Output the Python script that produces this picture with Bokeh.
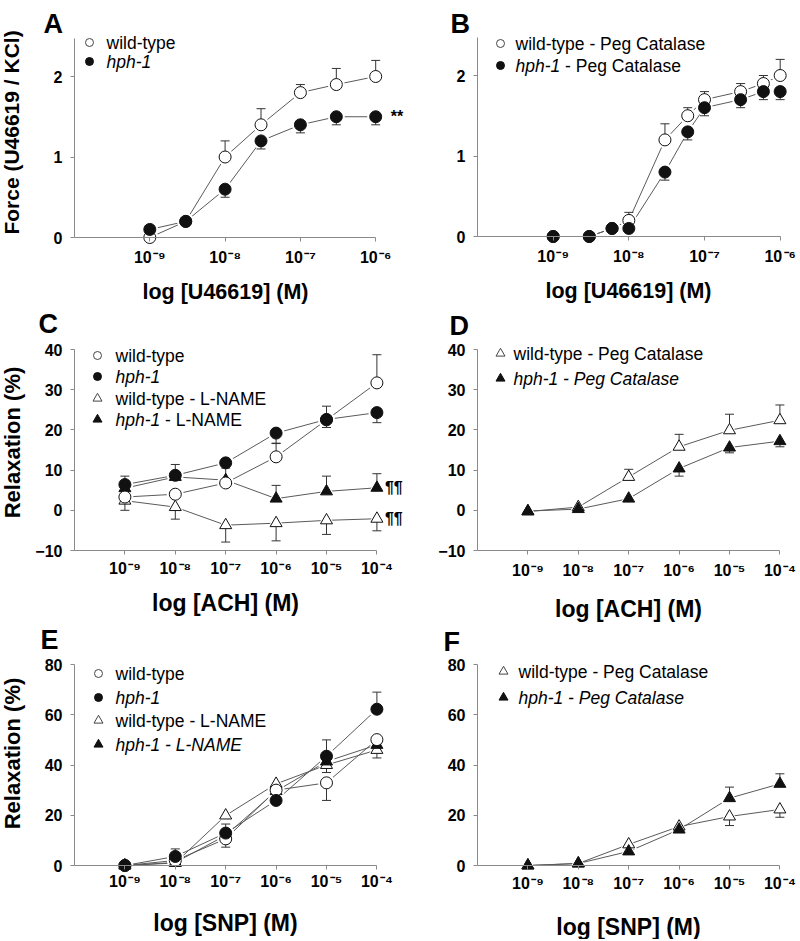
import numpy as np
from math import pi
from bokeh.plotting import figure
from bokeh.models import Range1d, FixedTicker, Label
from bokeh.layouts import column, row
from bokeh.embed import file_html
from bokeh.resources import INLINE

FONT = "Liberation Sans"
AXIS_COLOR = "#8a8a8a"
LINE_COLOR = "#5a5a5a"
ERR_COLOR = "#333333"
MARK_COLOR = "#111111"

# ---------------- data ----------------
# Panel A: U46619 contraction
A_conc = [1e-9, 3e-9, 1e-8, 3e-8, 1e-7, 3e-7, 1e-6]
A_wt = [0.0, 0.2, 1.0, 1.4, 1.8, 1.9, 2.0]
A_wt_up = [0, 0, 0.2, 0.2, 0.1, 0.2, 0.2]
A_wt_dn = [0, 0, 0, 0, 0, 0, 0]
A_hph = [0.1, 0.2, 0.6, 1.2, 1.4, 1.5, 1.5]
A_hph_up = [0, 0, 0, 0, 0, 0, 0]
A_hph_dn = [0, 0, 0.1, 0.1, 0.1, 0.1, 0.1]

# Panel B: U46619 + PEG catalase
B_conc = [1e-9, 3e-9, 6e-9, 1e-8, 3e-8, 6e-8, 1e-7, 3e-7, 6e-7, 1e-6]
B_wt = [0.0, 0.0, 0.1, 0.2, 1.2, 1.5, 1.7, 1.8, 1.9, 2.0]
B_wt_up = [0, 0, 0, 0.1, 0.2, 0.1, 0.1, 0.1, 0.1, 0.2]
B_wt_dn = [0, 0, 0, 0, 0, 0, 0, 0, 0, 0]
B_hph = [0.0, 0.0, 0.1, 0.1, 0.8, 1.3, 1.6, 1.7, 1.8, 1.8]
B_hph_up = [0, 0, 0, 0, 0, 0, 0, 0, 0, 0]
B_hph_dn = [0, 0, 0, 0, 0.1, 0.1, 0.1, 0.1, 0.1, 0.1]

# Panels C-F: ACh / SNP relaxation
CF_conc = [1e-9, 1e-8, 1e-7, 1e-6, 1e-5, 1e-4]

C_wt = [3.3, 4.0, 6.8, 13.3, 22.5, 31.7]
C_wt_up = [0, 0, 0, 3.3, 3.4, 7.0]
C_wt_dn = [0, 0, 0, 0, 0, 0]
C_hph = [6.4, 8.7, 11.8, 19.2, 22.6, 24.3]
C_hph_up = [2.1, 2.7, 0, 0, 0, 0]
C_hph_dn = [0, 0, 0, 2.5, 2.0, 2.5]
C_wtL = [2.4, 0.8, -3.7, -3.2, -2.5, -2.1]
C_wtL_up = [0, 0, 0, 0, 0, 0]
C_wtL_dn = [2.4, 3.0, 4.2, 4.4, 3.5, 3.0]
C_hphL = [5.5, 8.3, 7.5, 2.9, 4.7, 5.6]
C_hphL_up = [0, 0, 3.0, 3.3, 3.8, 3.5]
C_hphL_dn = [0, 0, 0, 0, 0, 0]

D_wtP = [-0.3, 0.8, 8.3, 15.8, 19.9, 22.4]
D_wtP_up = [0, 0, 1.9, 3.1, 4.0, 3.8]
D_wtP_dn = [0, 0, 0, 0, 0, 0]
D_hphP = [-0.2, 0.3, 2.9, 10.4, 15.6, 17.2]
D_hphP_up = [0, 0, 0, 0, 0, 0]
D_hphP_dn = [0, 0, 0, 1.9, 1.3, 1.4]

E_wt = [0.0, 2.0, 10.6, 30.0, 32.9, 50.1]
E_wt_up = [0, 0, 0, 0, 0, 0]
E_wt_dn = [0, 0, 3.3, 0, 7.0, 0]
E_hph = [0.0, 3.6, 12.9, 25.9, 43.5, 62.2]
E_hph_up = [0, 3.0, 0, 0, 6.5, 6.8]
E_hph_dn = [0, 0, 0, 0, 0, 0]
E_wtL = [0.0, 1.0, 19.9, 32.5, 40.0, 46.0]
E_wtL_up = [0, 0, 0, 0, 0, 0]
E_wtL_dn = [0, 0, 0, 0, 3.0, 3.2]
E_hphL = [0.0, 1.2, 12.0, 29.6, 41.4, 48.0]
E_hphL_up = [0, 0, 4.5, 0, 0, 0]
E_hphL_dn = [0, 0, 0, 0, 0, 0]

F_wtP = [0.0, 0.8, 8.4, 15.5, 19.5, 22.3]
F_wtP_up = [0, 0, 0, 0, 0, 0]
F_wtP_dn = [0, 0, 0, 1.5, 3.6, 3.1]
F_hphP = [0.0, 0.8, 5.6, 14.3, 26.8, 32.5]
F_hphP_up = [0, 0, 0, 0, 4.4, 4.0]
F_hphP_dn = [0, 0, 0, 0, 0, 0]

A_xticks = [-9, -8, -7, -6]
CF_xticks = [-9, -8, -7, -6, -5, -4]
A_yticks = [0, 1, 2]
C_yticks = [-10, 0, 10, 20, 30, 40]
E_yticks = [0, 20, 40, 60, 80]

SUP = {"-": "\u207b", "0": "\u2070", "1": "\u00b9", "2": "\u00b2", "3": "\u00b3",
       "4": "\u2074", "5": "\u2075", "6": "\u2076", "7": "\u2077", "8": "\u2078", "9": "\u2079"}


def dec_label(n):
    return "10\u200a" + "".join(SUP[c] for c in str(n))


def make_panel(col_left, row_top, W, H, axis_left_px, ppd, yref, yref_px, ppu,
               x_ticks, y_ticks, y_bounds, x_std):
    # the frame covers the whole canvas; axes are drawn at fixed data locations
    x_start = -10.0 - (axis_left_px - col_left) / ppd
    x_end = x_start + W / ppd
    y_hi = yref + (yref_px - row_top) / ppu
    y_lo = y_hi - H / ppu
    p = figure(width=W, height=H, x_range=Range1d(x_start, x_end), y_range=Range1d(y_lo, y_hi),
               min_border_left=0, min_border_right=0, min_border_top=0,
               min_border_bottom=0, toolbar_location=None, output_backend="svg",
               title=None)
    p.grid.visible = False
    p.outline_line_color = None
    p.background_fill_color = "white"
    p.border_fill_color = "white"

    p.yaxis.bounds = tuple(y_bounds)
    p.yaxis.ticker = FixedTicker(ticks=y_ticks)
    p.yaxis.fixed_location = -10
    p.yaxis.major_label_standoff = 8
    p.xaxis.bounds = (-10, x_ticks[-1])
    p.xaxis.ticker = FixedTicker(ticks=x_ticks)
    p.xaxis.fixed_location = y_bounds[0]
    p.xaxis.major_label_overrides = {t: dec_label(t) for t in x_ticks}
    p.xaxis.major_label_standoff = x_std
    for ax in (p.xaxis[0], p.yaxis[0]):
        ax.axis_line_color = AXIS_COLOR
        ax.axis_line_width = 1
        ax.major_tick_line_color = AXIS_COLOR
        ax.minor_tick_line_color = None
        ax.major_tick_out = 4
        ax.major_tick_in = 0
        ax.major_label_text_font = FONT
        ax.major_label_text_font_style = "bold"
        ax.major_label_text_font_size = "16px"
        ax.major_label_text_color = "black"

    def to_data(px, py):
        return x_start + (px - col_left) / ppd, y_hi - (py - row_top) / ppu

    return p, to_data


def add_text(p, to_data, px, py, text, size, style="normal", align="left",
             baseline="middle", angle=0.0):
    x, y = to_data(px, py)
    p.add_layout(Label(x=x, y=y, text=text, text_font=FONT, text_font_size=f"{size}px",
                       text_font_style=style, text_align=align, text_baseline=baseline,
                       angle=angle, text_color="black"))


def draw_series(p, series, msize):
    for conc, y, up, dn, marker, filled in series:
        lx = np.log10(conc)
        p.line(lx, y, line_color=LINE_COLOR, line_width=1)
    for conc, y, up, dn, marker, filled in series:
        lx = np.log10(conc)
        p.scatter(lx, y, marker=marker, size=msize + 5, fill_color="white", line_color=None)
    for conc, y, up, dn, marker, filled in series:
        lx = np.log10(conc)
        ya = np.array(y, dtype=float)
        for err, sgn in ((np.array(up, dtype=float), 1), (np.array(dn, dtype=float), -1)):
            m = err > 0
            if not m.any():
                continue
            tips = ya[m] + sgn * err[m]
            p.segment(lx[m], ya[m], lx[m], tips, line_color=ERR_COLOR, line_width=1)
            p.scatter(lx[m], tips, marker="dash", size=9, line_color=ERR_COLOR, line_width=1)
    for conc, y, up, dn, marker, filled in series:
        lx = np.log10(conc)
        p.scatter(lx, y, marker=marker, size=msize,
                  fill_color=MARK_COLOR if filled else "white",
                  line_color=MARK_COLOR, line_width=1)


def add_legend(p, to_data, mx, tx, rows, lsize=17.5):
    # rows: (page_y, marker, filled, [(text, style), ...])
    for py, marker, filled, parts in rows:
        x, y = to_data(mx, py)
        p.scatter([x], [y], marker=marker, size=8 if marker == "circle" else 9,
                  fill_color=MARK_COLOR if filled else "white",
                  line_color=MARK_COLOR if filled else "#444444", line_width=1)
        cx = tx
        for text, style in parts:
            add_text(p, to_data, cx, py, text, lsize, style=style)
            # advance: italic "hph-1" width + a space (Arial metrics)
            cx += 2.557 * lsize + 0.278 * lsize


def mark_label(p, x, y, text, dx):
    p.add_layout(Label(x=x, y=y, x_offset=dx, text=text, text_font=FONT,
                       text_font_size="16px", text_font_style="bold", text_color="black",
                       text_baseline="middle", text_align="left"))


LEFT, RIGHT = 0, 410
WL, WR = 410, 388
# left column rows (A, C, E) and right column rows (B, D, F)
L_TOPS, L_HS = (0, 310, 620), (310, 310, 318)
R_TOPS, R_HS = (0, 310, 622), (310, 312, 317)

# ---------------- Panel A ----------------
pA, dA = make_panel(LEFT, L_TOPS[0], WL, L_HS[0], 74, 75.3, 0.0, 237, 80.5,
                    A_xticks, A_yticks, (0, 2.47), 7)
draw_series(pA, [(A_conc, A_wt, A_wt_up, A_wt_dn, "circle", False),
                 (A_conc, A_hph, A_hph_up, A_hph_dn, "circle", True)], 12)
add_legend(pA, dA, 89, 106, [(42, "circle", False, [("wild-type", "normal")]),
                             (61, "circle", True, [("hph-1", "italic")])])
add_text(pA, dA, 43, 23, "A", 27, style="bold", baseline="alphabetic")
add_text(pA, dA, 11, 132, "Force (U46619 / KCl)", 21, style="bold", align="center", angle=pi / 2)
add_text(pA, dA, 225, 291, "log [U46619] (M)", 21.5, style="bold", align="center")
mark_label(pA, np.log10(A_conc[-1]), A_hph[-1], "**", 15)

# ---------------- Panel B ----------------
pB, dB = make_panel(RIGHT, R_TOPS[0], WR, R_HS[0], 477, 75.67, 0.0, 236, 80.5,
                    A_xticks, A_yticks, (0, 2.47), 7)
draw_series(pB, [(B_conc, B_wt, B_wt_up, B_wt_dn, "circle", False),
                 (B_conc, B_hph, B_hph_up, B_hph_dn, "circle", True)], 12)
add_legend(pB, dB, 500, 515, [(43, "circle", False, [("wild-type - Peg Catalase", "normal")]),
                              (65, "circle", True, [("hph-1", "italic"), ("- Peg Catalase", "normal")])])
add_text(pB, dB, 450, 23, "B", 27, style="bold", baseline="alphabetic")
add_text(pB, dB, 628, 290, "log [U46619] (M)", 21.5, style="bold", align="center")

# ---------------- Panel C ----------------
pC, dC = make_panel(LEFT, L_TOPS[1], WL, L_HS[1], 74, 50.4, -10.0, 550, 4.02,
                    CF_xticks, C_yticks, (-10, 40), 5)
draw_series(pC, [(CF_conc, C_wtL, C_wtL_up, C_wtL_dn, "triangle", False),
                 (CF_conc, C_hphL, C_hphL_up, C_hphL_dn, "triangle", True),
                 (CF_conc, C_wt, C_wt_up, C_wt_dn, "circle", False),
                 (CF_conc, C_hph, C_hph_up, C_hph_dn, "circle", True)], 12)
add_legend(pC, dC, 97, 115, [(355, "circle", False, [("wild-type", "normal")]),
                             (376, "circle", True, [("hph-1", "italic")]),
                             (398, "triangle", False, [("wild-type - L-NAME", "normal")]),
                             (419, "triangle", True, [("hph-1", "italic"), ("- L-NAME", "normal")])])
add_text(pC, dC, 38, 323, "C", 27, style="bold", baseline="alphabetic")
add_text(pC, dC, 12, 442, "Relaxation (%)", 22, style="bold", align="center", angle=pi / 2)
add_text(pC, dC, 225, 602, "log [ACH] (M)", 23, style="bold", align="center")
for yv in (C_hphL[-1], C_wtL[-1]):
    mark_label(pC, np.log10(CF_conc[-1]), yv, "\u00b6\u00b6", 8)

# ---------------- Panel D ----------------
pD, dD = make_panel(RIGHT, R_TOPS[1], WR, R_HS[1], 477, 50.4, -10.0, 550, 4.02,
                    CF_xticks, C_yticks, (-10, 40), 7)
draw_series(pD, [(CF_conc, D_wtP, D_wtP_up, D_wtP_dn, "triangle", False),
                 (CF_conc, D_hphP, D_hphP_up, D_hphP_dn, "triangle", True)], 12)
add_legend(pD, dD, 500, 513, [(353, "triangle", False, [("wild-type - Peg Catalase", "normal")]),
                              (378, "triangle", True, [("hph-1 - Peg Catalase", "italic")])])
add_text(pD, dD, 449, 325, "D", 27, style="bold", baseline="alphabetic")
add_text(pD, dD, 628, 608, "log [ACH] (M)", 23, style="bold", align="center")

# ---------------- Panel E ----------------
pE, dE = make_panel(LEFT, L_TOPS[2], WL, L_HS[2], 74, 50.4, 0.0, 865, 2.5125,
                    CF_xticks, E_yticks, (0, 80), 3)
draw_series(pE, [(CF_conc, E_wtL, E_wtL_up, E_wtL_dn, "triangle", False),
                 (CF_conc, E_hphL, E_hphL_up, E_hphL_dn, "triangle", True),
                 (CF_conc, E_wt, E_wt_up, E_wt_dn, "circle", False),
                 (CF_conc, E_hph, E_hph_up, E_hph_dn, "circle", True)], 12)
add_legend(pE, dE, 98, 115, [(673, "circle", False, [("wild-type", "normal")]),
                             (697, "circle", True, [("hph-1", "italic")]),
                             (720, "triangle", False, [("wild-type - L-NAME", "normal")]),
                             (744, "triangle", True, [("hph-1 - L-NAME", "italic")])])
add_text(pE, dE, 40, 639, "E", 27, style="bold", baseline="alphabetic")
add_text(pE, dE, 12, 753, "Relaxation (%)", 22, style="bold", align="center", angle=pi / 2)
add_text(pE, dE, 225, 922, "log [SNP] (M)", 23, style="bold", align="center")

# ---------------- Panel F ----------------
pF, dF = make_panel(RIGHT, R_TOPS[2], WR, R_HS[2], 477, 50.4, 0.0, 865, 2.5125,
                    CF_xticks, E_yticks, (0, 80), 5)
draw_series(pF, [(CF_conc, F_wtP, F_wtP_up, F_wtP_dn, "triangle", False),
                 (CF_conc, F_hphP, F_hphP_up, F_hphP_dn, "triangle", True)], 12)
add_legend(pF, dF, 503, 518, [(671, "triangle", False, [("wild-type - Peg Catalase", "normal")]),
                              (697, "triangle", True, [("hph-1 - Peg Catalase", "italic")])])
add_text(pF, dF, 443, 641, "F", 27, style="bold", baseline="alphabetic")
add_text(pF, dF, 628, 926, "log [SNP] (M)", 23, style="bold", align="center")

layout = row(column(pA, pC, pE), column(pB, pD, pF))
open("out.html", "w").write(file_html(layout, INLINE))
